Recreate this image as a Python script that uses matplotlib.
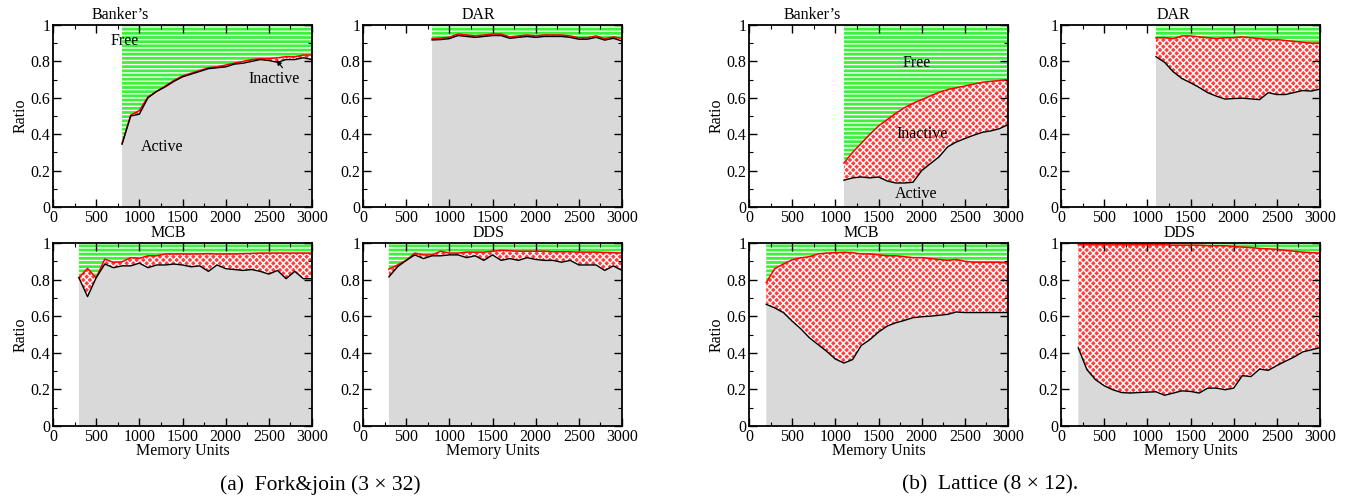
import numpy as np
import matplotlib
matplotlib.use('Agg')
import matplotlib.pyplot as plt
from matplotlib.ticker import MultipleLocator, FuncFormatter

plt.rcParams['font.family'] = ['Liberation Serif', 'DejaVu Serif']
plt.rcParams['hatch.linewidth'] = 1.0

# ---- data: (a) Fork&join (3 x 32) ----
fj_bankers_x = np.arange(800, 3001, 100)
fj_bankers_active = [0.345, 0.50, 0.51, 0.60, 0.635, 0.66, 0.69, 0.715, 0.73, 0.745, 0.76, 0.765,
                     0.77, 0.785, 0.79, 0.80, 0.81, 0.805, 0.795, 0.81, 0.81, 0.82, 0.81]
fj_bankers_used = [0.35, 0.505, 0.53, 0.605, 0.635, 0.665, 0.695, 0.72, 0.735, 0.75, 0.765, 0.77,
                   0.78, 0.79, 0.80, 0.81, 0.815, 0.815, 0.82, 0.826, 0.825, 0.835, 0.835]

fj_dar_x = np.arange(800, 3001, 100)
fj_dar_active = [0.918, 0.92, 0.925, 0.942, 0.937, 0.932, 0.937, 0.942, 0.942, 0.927, 0.932, 0.937,
                 0.932, 0.937, 0.937, 0.937, 0.932, 0.922, 0.922, 0.932, 0.917, 0.927, 0.912]
fj_dar_used = [0.925, 0.928, 0.933, 0.95, 0.945, 0.94, 0.945, 0.95, 0.95, 0.935, 0.94, 0.945,
               0.94, 0.945, 0.945, 0.945, 0.94, 0.93, 0.93, 0.94, 0.925, 0.935, 0.925]

fj_mcb_x = np.arange(300, 3001, 100)
fj_mcb_active = [0.81, 0.707, 0.81, 0.885, 0.865, 0.875, 0.875, 0.89, 0.865, 0.88, 0.88, 0.885,
                 0.88, 0.87, 0.875, 0.845, 0.88, 0.86, 0.855, 0.85, 0.855, 0.845, 0.83, 0.85,
                 0.805, 0.845, 0.805, 0.805]
fj_mcb_used = [0.811, 0.861, 0.81, 0.912, 0.894, 0.897, 0.92, 0.916, 0.93, 0.93, 0.94, 0.94,
               0.94, 0.94, 0.94, 0.942, 0.94, 0.94, 0.94, 0.942, 0.943, 0.945, 0.945, 0.945,
               0.945, 0.945, 0.945, 0.945]

fj_dds_x = np.arange(300, 3001, 100)
fj_dds_active = [0.815, 0.87, 0.905, 0.935, 0.915, 0.93, 0.93, 0.935, 0.935, 0.92, 0.93, 0.905,
                 0.935, 0.905, 0.915, 0.905, 0.92, 0.91, 0.905, 0.905, 0.895, 0.905, 0.88, 0.88,
                 0.88, 0.85, 0.875, 0.85]
fj_dds_used = [0.857, 0.88, 0.905, 0.945, 0.935, 0.935, 0.955, 0.945, 0.945, 0.95, 0.95, 0.95,
               0.955, 0.96, 0.958, 0.955, 0.955, 0.955, 0.955, 0.952, 0.952, 0.952, 0.95, 0.95,
               0.95, 0.948, 0.947, 0.945]

# ---- data: (b) Lattice (8 x 12) ----
lt_bankers_x = np.arange(1100, 3001, 100)
lt_bankers_active = [0.147, 0.16, 0.165, 0.16, 0.165, 0.143, 0.132, 0.132, 0.136, 0.20, 0.238,
                     0.275, 0.33, 0.357, 0.376, 0.394, 0.41, 0.418, 0.43, 0.453]
lt_bankers_used = [0.242, 0.30, 0.35, 0.40, 0.445, 0.48, 0.515, 0.545, 0.57, 0.59, 0.61, 0.63,
                   0.645, 0.655, 0.665, 0.675, 0.685, 0.69, 0.695, 0.70]

lt_dar_x = np.arange(1100, 3001, 100)
lt_dar_active = [0.826, 0.795, 0.743, 0.706, 0.683, 0.657, 0.628, 0.609, 0.593, 0.596, 0.598,
                 0.594, 0.59, 0.628, 0.618, 0.618, 0.629, 0.64, 0.637, 0.648]
lt_dar_used = [0.93, 0.93, 0.925, 0.94, 0.94, 0.935, 0.93, 0.925, 0.93, 0.93, 0.935, 0.93,
               0.925, 0.92, 0.92, 0.915, 0.91, 0.905, 0.90, 0.90]

lt_mcb_x = np.arange(200, 3001, 100)
lt_mcb_active = [0.665, 0.645, 0.619, 0.573, 0.531, 0.482, 0.445, 0.408, 0.366, 0.344, 0.363,
                 0.44, 0.472, 0.513, 0.546, 0.564, 0.577, 0.592, 0.597, 0.60, 0.605, 0.61,
                 0.623, 0.62, 0.62, 0.62, 0.62, 0.62, 0.62]
lt_mcb_used = [0.784, 0.861, 0.885, 0.908, 0.919, 0.925, 0.94, 0.945, 0.947, 0.949, 0.947, 0.94,
               0.94, 0.935, 0.93, 0.93, 0.925, 0.92, 0.92, 0.915, 0.91, 0.905, 0.91, 0.90,
               0.895, 0.895, 0.895, 0.895, 0.89]

lt_dds_x = np.arange(200, 3001, 100)
lt_dds_active = [0.427, 0.308, 0.253, 0.22, 0.198, 0.183, 0.18, 0.183, 0.185, 0.187, 0.168,
                 0.18, 0.192, 0.189, 0.18, 0.207, 0.207, 0.198, 0.207, 0.275, 0.27, 0.311,
                 0.304, 0.33, 0.354, 0.377, 0.405, 0.416, 0.428]
lt_dds_used = [0.99, 0.99, 0.99, 0.99, 0.99, 0.99, 0.99, 0.99, 0.99, 0.99, 0.99, 0.988, 0.988,
               0.988, 0.988, 0.985, 0.985, 0.985, 0.98, 0.978, 0.975, 0.97, 0.968, 0.965,
               0.96, 0.955, 0.95, 0.947, 0.945]

GREEN = '#3cf03c'
RED = '#ff3c3c'
GRAY = '#d9d9d9'

fig = plt.figure(figsize=(13.52, 5.01), dpi=100)

W, H = 1352.0, 501.0
lefts = [53, 363, 749, 1061]
top_row = (207, 25)
bot_row = (426, 243)


def make_ax(left_px, row):
    bottom, top = row
    return fig.add_axes([left_px / W, (H - bottom) / H, 259 / W, (bottom - top) / H])


def panel(ax, x, active, used, title, title_x, ylabel=False, xlabel=False):
    ax.fill_between(x, 0, active, facecolor=GRAY, edgecolor='none', linewidth=0)
    ax.fill_between(x, active, used, facecolor=RED, edgecolor='white', hatch='xxxxx', linewidth=0)
    ax.fill_between(x, used, 1, facecolor=GREEN, edgecolor='white', hatch='----', linewidth=0)
    ax.plot(x, used, color='red', lw=1.1)
    ax.plot(x, active, color='black', lw=1.0)
    ax.set_xlim(0, 3000)
    ax.set_ylim(0, 1)
    ax.xaxis.set_major_locator(MultipleLocator(500))
    ax.xaxis.set_minor_locator(MultipleLocator(250))
    ax.yaxis.set_major_locator(MultipleLocator(0.2))
    ax.yaxis.set_minor_locator(MultipleLocator(0.1))
    ax.yaxis.set_major_formatter(FuncFormatter(lambda v, p: '%g' % round(v, 2)))
    ax.tick_params(which='both', direction='in', top=True, right=True, labelsize=11.5, pad=2)
    ax.tick_params(which='major', length=6, width=1.0)
    ax.tick_params(which='minor', length=3, width=0.8)
    for s in ax.spines.values():
        s.set_linewidth(1.3)
    ax.text(title_x, 1.01, title, transform=ax.transAxes, ha='center', va='bottom', fontsize=11.5)
    if ylabel:
        ax.set_ylabel('Ratio', fontsize=11.5, labelpad=1)
    if xlabel:
        ax.set_xlabel('Memory Units', fontsize=11.5, labelpad=-1)


# (a) Fork&join
ax = make_ax(lefts[0], top_row)
panel(ax, fj_bankers_x, fj_bankers_active, fj_bankers_used, "Banker’s", 0.259, ylabel=True)
ax.text(830, 0.91, 'Free', ha='center', va='center', fontsize=11.5)
ax.text(1260, 0.33, 'Active', ha='center', va='center', fontsize=11.5)
ax.annotate('Inactive', xy=(2590, 0.806), xytext=(2565, 0.706), ha='center', va='center',
            fontsize=11.5, arrowprops=dict(arrowstyle='-|>', color='black', lw=0.8,
                                           mutation_scale=7, relpos=(0.7, 1.0), shrinkA=0, shrinkB=0))

ax = make_ax(lefts[1], top_row)
panel(ax, fj_dar_x, fj_dar_active, fj_dar_used, 'DAR', 0.444)

ax = make_ax(lefts[0], bot_row)
panel(ax, fj_mcb_x, fj_mcb_active, fj_mcb_used, 'MCB', 0.444, ylabel=True, xlabel=True)

ax = make_ax(lefts[1], bot_row)
panel(ax, fj_dds_x, fj_dds_active, fj_dds_used, 'DDS', 0.486, xlabel=True)

# (b) Lattice
ax = make_ax(lefts[2], top_row)
panel(ax, lt_bankers_x, lt_bankers_active, lt_bankers_used, "Banker’s", 0.243, ylabel=True)
ax.text(1940, 0.79, 'Free', ha='center', va='center', fontsize=11.5)
ax.text(2005, 0.40, 'Inactive', ha='center', va='center', fontsize=11.5)
ax.text(1940, 0.07, 'Active', ha='center', va='center', fontsize=11.5)

ax = make_ax(lefts[3], top_row)
panel(ax, lt_dar_x, lt_dar_active, lt_dar_used, 'DAR', 0.434)

ax = make_ax(lefts[2], bot_row)
panel(ax, lt_mcb_x, lt_mcb_active, lt_mcb_used, 'MCB', 0.432, ylabel=True, xlabel=True)

ax = make_ax(lefts[3], bot_row)
panel(ax, lt_dds_x, lt_dds_active, lt_dds_used, 'DDS', 0.457, xlabel=True)

fig.text(320 / W, (H - 485) / H, '(a)  Fork&join (3 × 32)', ha='center', va='center', fontsize=15.5)
fig.text(990 / W, (H - 485) / H, '(b)  Lattice (8 × 12).', ha='center', va='center', fontsize=15.5)

fig.savefig('out.png', dpi=100)
